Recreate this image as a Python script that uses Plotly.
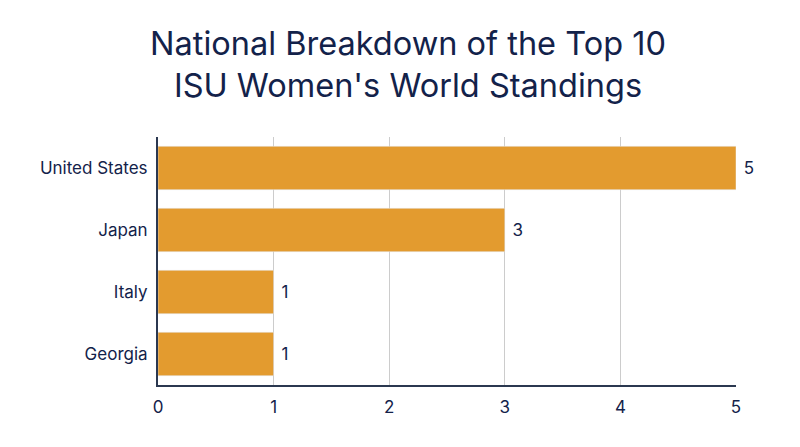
import plotly.graph_objects as go

countries = ["United States", "Japan", "Italy", "Georgia"]
counts = [5, 3, 1, 1]
x_ticks = [0, 1, 2, 3, 4, 5]

navy = "#13224a"

fig = go.Figure(go.Bar(
    x=counts, y=countries, orientation="h",
    marker_color="#e39b2f",
    text=counts, texttemplate=" %{text}", textposition="outside",
    textfont=dict(size=17, color=navy),
    cliponaxis=False,
))

fig.update_layout(
    width=800, height=447,
    title=dict(text="National Breakdown of the Top 10<br>ISU Women's World Standings",
               x=0.5, xanchor="center", y=0.895, yanchor="top",
               font=dict(family="Inter", size=32.5, color=navy)),
    font=dict(family="Inter", size=17, color=navy),
    plot_bgcolor="white", paper_bgcolor="white",
    margin=dict(l=150, r=72, t=129, b=70),
    bargap=0.3,
    showlegend=False,
)
fig.update_xaxes(range=[0, 5], tickvals=x_ticks, showgrid=True, gridcolor="#cccccc",
                 showline=True, linecolor="#2b3850", linewidth=2, zeroline=False,
                 ticks="", ticklabelstandoff=6)
fig.update_yaxes(autorange="reversed", showline=True, linecolor="#2b3850", linewidth=2,
                 ticks="", ticklabelstandoff=5)

fig.write_html("out.html")
